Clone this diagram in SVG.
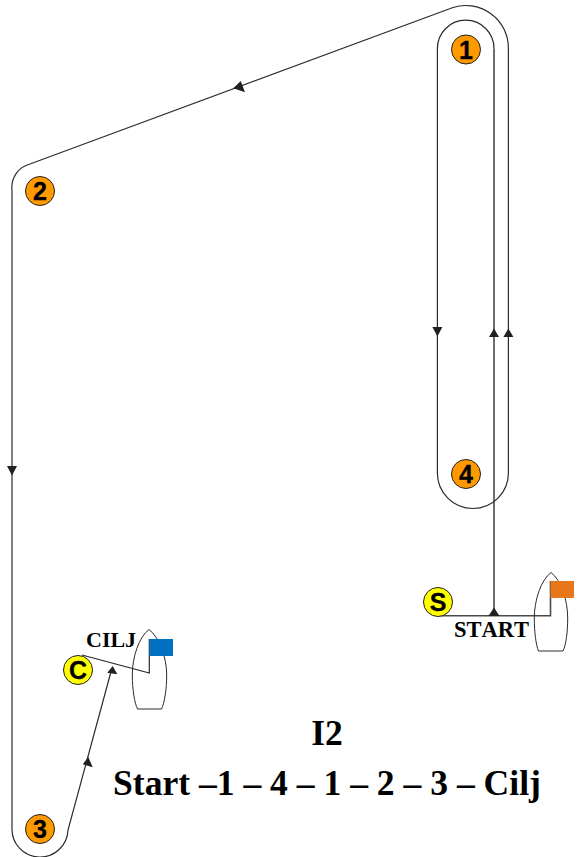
<svg xmlns="http://www.w3.org/2000/svg" width="581" height="857" viewBox="0 0 581 857">
<style>
.ln{fill:none;stroke:#2b2b2b;stroke-width:1.2}
.ln2{fill:none;stroke:#4a4a4a;stroke-width:1.6}
.hull{fill:none;stroke:#2b2b2b;stroke-width:1}
.ah{fill:#231f20}
.mk{stroke:#231f20;stroke-width:1}
.o{fill:#ff9900}
.y{fill:#ffff00}
.d{font-family:"Liberation Sans",Arial,sans-serif;font-weight:700;font-size:25px;text-anchor:middle;fill:#000;stroke:#000;stroke-width:.3}
.t{font-family:"Liberation Serif","Times New Roman",serif;font-weight:700;fill:#000}
</style>
<rect width="581" height="857" fill="#fff"/>
<g id="connectors">
<path class="ln2" d="M440 615.7H550.5V581"/>
<path class="ln2" d="M494 615.7V48.5"/>
<path class="ln" d="M494 48.5A28.3 28.3 0 0 0 437.4 48.5V473A35.5 35.5 0 0 0 508.4 473V48A42.5 42.5 0 0 0 453 7.5L30 164A24 24 0 0 0 12 190V828A28 28 0 0 0 68 830L112 668"/>
<path class="ln" d="M82 655L149.3 673V639"/>
<path class="ah" d="M494 607.5L499.5 616H488.5Z"/>
<path class="ah" d="M494 328.5L499 337H489Z"/>
<path class="ah" d="M508.4 328.5L513.4 337H503.4Z"/>
<path class="ah" d="M437.4 336.5L432.4 327H442.4Z"/>
<path class="ah" d="M12 475.500L7 466H17Z"/>
<path class="ah" d="M233.300 88.300L240.700 81L245 92.300Z"/>
<path class="ah" d="M88.300 757L92.700 767.300L82.700 764.300Z"/>
<path class="ah" d="M112.700 666L117.300 674.300L107.300 672.700Z"/>
</g>
<g id="boat-start">
<path class="hull" d="M551 572.5C541 580 534.3 600 534.3 618C534.3 632 536 645 538.5 651H563C566 645 567.7 632 567.7 618C567.7 600 561 580 551 572.5Z"/>
<rect x="550.5" y="581" width="23.5" height="17" fill="#e8761a"/>
</g>
<g id="boat-finish">
<path class="hull" d="M149 629.5C139 637 132.3 657 132.3 675C132.3 689 134.5 703 137.5 709H161.5C164.5 703 166.7 689 166.7 675C166.7 657 159 637 149 629.5Z"/>
<rect x="149.3" y="639" width="23.7" height="17" fill="#0070c0"/>
</g>
<g id="node-1"><circle class="o mk" cx="466" cy="49.500" r="14.500"/><text class="d" x="466" y="58.500">1</text></g>
<g id="node-2"><circle class="o mk" cx="40" cy="191" r="14.500"/><text class="d" x="40" y="200">2</text></g>
<g id="node-3"><circle class="o mk" cx="40" cy="829" r="14.500"/><text class="d" x="40" y="838">3</text></g>
<g id="node-4"><circle class="o mk" cx="466" cy="474" r="14.500"/><text class="d" x="466" y="483">4</text></g>
<g id="node-S"><circle class="y mk" cx="438" cy="602" r="14.500"/><text class="d" x="438" y="611">S</text></g>
<g id="node-C"><circle class="y mk" cx="78" cy="670" r="14.500"/><text class="d" x="78" y="679">C</text></g>
<text class="t" x="454" y="637" font-size="22.500" style="font-kerning:none">START</text>
<text class="t" x="86" y="647" font-size="22">CILJ</text>
<text class="t" x="327" y="745" font-size="35.600" text-anchor="middle">I2</text>
<text class="t" x="113" y="794.500" font-size="35.600">Start –1 – 4 – 1 – 2 – 3 – Cilj</text>
</svg>
